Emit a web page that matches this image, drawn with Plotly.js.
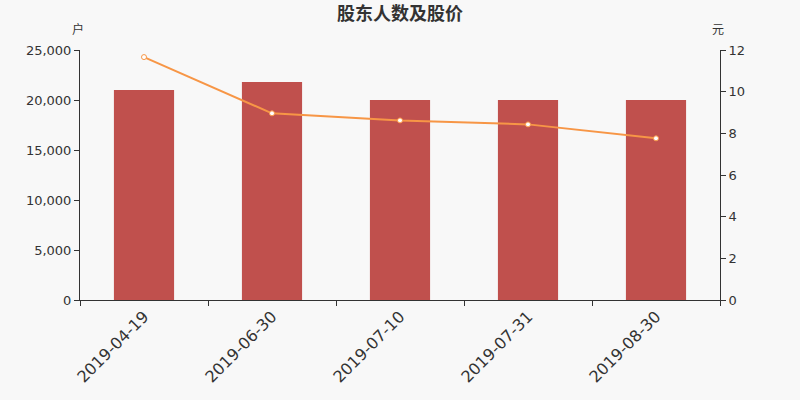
<!DOCTYPE html>
<html><head><meta charset="utf-8">
<script src="https://cdn.plot.ly/plotly-3.0.1.min.js"></script>
<style>html,body{margin:0;padding:0;background:#f8f8f8;}</style>
</head><body><div id="c" style="width:800px;height:400px;"></div>
<script>
const dates = ["2019-04-19","2019-06-30","2019-07-10","2019-07-31","2019-08-30"];
const holders = [21000, 21800, 20000, 20000, 20000];
const prices = [11.66, 8.96, 8.62, 8.43, 7.76];
const leftTicks = [0,5000,10000,15000,20000,25000];
const rightTicks = [0,2,4,6,8,10,12];

const font = {family:"DejaVu Sans, sans-serif", size:13, color:"#333"};
const data = [
  {type:"bar", x:dates, y:holders, marker:{color:"#c0504d"}, name:"股东人数", hoverinfo:"x+y"},
  {type:"scatter", mode:"lines+markers", x:dates, y:prices, yaxis:"y2", name:"股价",
   line:{color:"#f79646", width:2}, marker:{size:5, color:"#ffffff", line:{color:"#f79646", width:1}}}
];
const layout = {
  width:800, height:400,
  paper_bgcolor:"#f8f8f8", plot_bgcolor:"#f8f8f8",
  margin:{l:80, r:80, t:50, b:100},
  showlegend:false,
  bargap:0.53,
  font:font,
  title:{text:"<b>股东人数及股价</b>", x:0.5, xanchor:"center", y:0.965, yanchor:"middle", font:{family:"Noto Sans CJK SC, sans-serif", size:18, color:"#333"}},
  xaxis:{type:"category", tickson:"boundaries", ticks:"outside", ticklen:5, tickcolor:"#333",
    showline:true, linecolor:"#333", linewidth:1, showgrid:false, tickangle:-45,
    tickfont:{family:"DejaVu Sans, sans-serif", size:16, color:"#333"}},
  yaxis:{range:[0,25000], tickvals:leftTicks, tickformat:",d", ticks:"outside", ticklen:5, tickcolor:"#333",
    showline:true, linecolor:"#333", linewidth:1, showgrid:false, zeroline:false, fixedrange:true},
  yaxis2:{range:[0,12], tickvals:rightTicks, overlaying:"y", side:"right", ticks:"outside", ticklen:5, tickcolor:"#333",
    showline:true, linecolor:"#333", linewidth:1, showgrid:false, zeroline:false},
  annotations:[
    {text:"户", xref:"paper", yref:"paper", x:0, y:1, xshift:-2, yshift:22, showarrow:false, xanchor:"center", yanchor:"middle", font:{family:"Noto Sans CJK SC, sans-serif", size:12, color:"#333"}},
    {text:"元", xref:"paper", yref:"paper", x:1, y:1, xshift:-2, yshift:22, showarrow:false, xanchor:"center", yanchor:"middle", font:{family:"Noto Sans CJK SC, sans-serif", size:12, color:"#333"}}
  ]
};
Plotly.newPlot("c", data, layout, {displayModeBar:false, staticPlot:true});
</script></body></html>
